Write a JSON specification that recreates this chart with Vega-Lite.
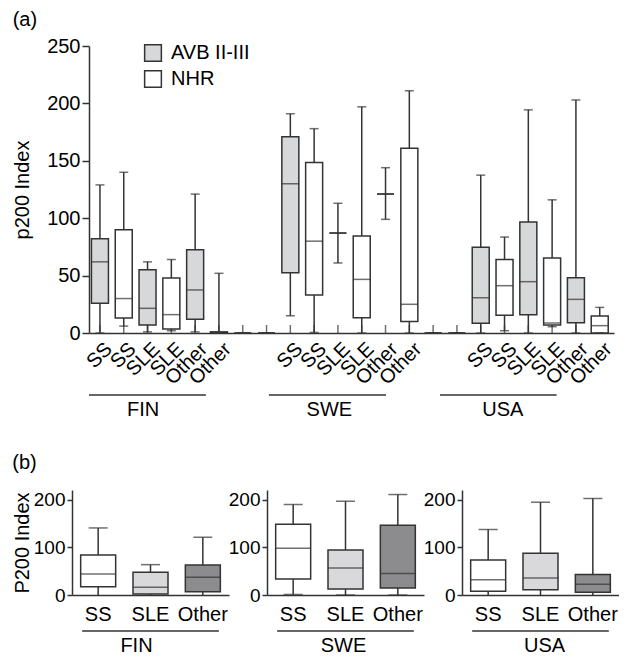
{
  "$schema": "https://vega.github.io/schema/vega-lite/v6.json",
  "background": "white",
  "padding": {"left": 12, "top": 10, "right": 0, "bottom": 0},
  "config": {
    "font": "Liberation Sans",
    "view": {"stroke": null},
    "axis": {"domainColor": "#333", "domainWidth": 1.5, "tickColor": "#333", "tickWidth": 1.5, "labelColor": "#000", "titleColor": "#000", "grid": false, "titleFontWeight": "normal"},
    "title": {"fontWeight": "normal", "color": "#000"}
  },
  "datasets": {
    "a": [
      {"pos": 0, "country": "FIN", "cat": "SS", "grp": "AVB II-III", "min": 0, "q1": 26, "med": 62, "q3": 82, "max": 129},
      {"pos": 1, "country": "FIN", "cat": "SS", "grp": "NHR", "min": 6, "q1": 13, "med": 30, "q3": 90, "max": 140},
      {"pos": 2, "country": "FIN", "cat": "SLE", "grp": "AVB II-III", "min": 1, "q1": 7, "med": 21.5, "q3": 55, "max": 62},
      {"pos": 3, "country": "FIN", "cat": "SLE", "grp": "NHR", "min": 2, "q1": 3.5, "med": 16, "q3": 48, "max": 64},
      {"pos": 4, "country": "FIN", "cat": "Other", "grp": "AVB II-III", "min": 1, "q1": 12, "med": 37.5, "q3": 72.5, "max": 121},
      {"pos": 5, "country": "FIN", "cat": "Other", "grp": "NHR", "min": 0, "q1": 0, "med": 0, "q3": 1, "max": 52},
      {"pos": 6, "country": "", "cat": "", "grp": "NHR", "min": 0, "q1": 0, "med": 0, "q3": 0, "max": 0},
      {"pos": 7, "country": "", "cat": "", "grp": "NHR", "min": 0, "q1": 0, "med": 0, "q3": 0, "max": 0},
      {"pos": 8, "country": "SWE", "cat": "SS", "grp": "AVB II-III", "min": 15, "q1": 52.5, "med": 130, "q3": 171, "max": 191},
      {"pos": 9, "country": "SWE", "cat": "SS", "grp": "NHR", "min": 0.5, "q1": 33, "med": 80, "q3": 148.5, "max": 178},
      {"pos": 10, "country": "SWE", "cat": "SLE", "grp": "AVB II-III", "min": 61, "q1": 87, "med": 87, "q3": 87, "max": 113},
      {"pos": 11, "country": "SWE", "cat": "SLE", "grp": "NHR", "min": 0, "q1": 13.3, "med": 46.7, "q3": 84.5, "max": 197},
      {"pos": 12, "country": "SWE", "cat": "Other", "grp": "AVB II-III", "min": 99, "q1": 121, "med": 121, "q3": 121, "max": 144},
      {"pos": 13, "country": "SWE", "cat": "Other", "grp": "NHR", "min": 0, "q1": 10, "med": 25, "q3": 161, "max": 211},
      {"pos": 14, "country": "", "cat": "", "grp": "NHR", "min": 0, "q1": 0, "med": 0, "q3": 0, "max": 0},
      {"pos": 15, "country": "", "cat": "", "grp": "NHR", "min": 0, "q1": 0, "med": 0, "q3": 0, "max": 0},
      {"pos": 16, "country": "USA", "cat": "SS", "grp": "AVB II-III", "min": 0, "q1": 8.4, "med": 30.7, "q3": 74.6, "max": 137.5},
      {"pos": 17, "country": "USA", "cat": "SS", "grp": "NHR", "min": 2, "q1": 15.4, "med": 41.2, "q3": 64, "max": 83.6},
      {"pos": 18, "country": "USA", "cat": "SLE", "grp": "AVB II-III", "min": 0, "q1": 16, "med": 44.7, "q3": 96.6, "max": 194.4},
      {"pos": 19, "country": "USA", "cat": "SLE", "grp": "NHR", "min": 5.5, "q1": 7, "med": 8.7, "q3": 65.3, "max": 116},
      {"pos": 20, "country": "USA", "cat": "Other", "grp": "AVB II-III", "min": 0, "q1": 9, "med": 29.3, "q3": 48.2, "max": 203},
      {"pos": 21, "country": "USA", "cat": "Other", "grp": "NHR", "min": 0, "q1": 0, "med": 6.4, "q3": 14.8, "max": 22.3}
    ],
    "groups_a": [
      {"country": "FIN", "from": -0.46, "to": 4.45, "at": 1.81},
      {"country": "SWE", "from": 7.1, "to": 12.02, "at": 9.64},
      {"country": "USA", "from": 14.29, "to": 19.19, "at": 16.93}
    ],
    "b": [
      {"country": "FIN", "cat": "SS", "min": 0, "q1": 17.5, "med": 44, "q3": 84, "max": 140.5},
      {"country": "FIN", "cat": "SLE", "min": 0, "q1": 2, "med": 16, "q3": 47.6, "max": 63.6},
      {"country": "FIN", "cat": "Other", "min": 0, "q1": 7, "med": 37, "q3": 63, "max": 121},
      {"country": "SWE", "cat": "SS", "min": 1, "q1": 33.6, "med": 98, "q3": 148, "max": 189.5},
      {"country": "SWE", "cat": "SLE", "min": 0, "q1": 12.6, "med": 56.6, "q3": 94.4, "max": 196.5},
      {"country": "SWE", "cat": "Other", "min": 0, "q1": 14.7, "med": 44.8, "q3": 146, "max": 210.5},
      {"country": "USA", "cat": "SS", "min": 0, "q1": 7.7, "med": 32.2, "q3": 73.4, "max": 137},
      {"country": "USA", "cat": "SLE", "min": 0, "q1": 11.2, "med": 35.7, "q3": 87.4, "max": 194.4},
      {"country": "USA", "cat": "Other", "min": 0, "q1": 5.6, "med": 22.4, "q3": 42.7, "max": 202}
    ],
    "groups_b": [
      {"country": "FIN", "first": "SS", "mid": "SLE", "last": "Other"},
      {"country": "SWE", "first": "SS", "mid": "SLE", "last": "Other"},
      {"country": "USA", "first": "SS", "mid": "SLE", "last": "Other"}
    ]
  },
  "resolve": {"scale": {"fill": "independent"}},
  "columns": 1,
  "align": "none",
  "spacing": {"row": 33, "column": 0},
  "concat": [
    {
      "title": {"text": "(a)", "anchor": "start", "fontSize": 20, "offset": 6},
      "spacing": 0,
      "bounds": "flush",
      "hconcat": [
        {
          "width": 17, "height": 10,
          "data": {"values": [{}]},
          "mark": {"type": "point", "opacity": 0},
          "encoding": {}
        },
        {
          "width": 525,
          "height": 287,
          "layer": [
            {
              "data": {"name": "a"},
              "mark": {"type": "rule", "color": "#333", "strokeWidth": 1.5},
              "encoding": {
                "x": {"field": "pos", "type": "quantitative", "scale": {"domain": [-0.46, 21.6], "nice": false, "zero": false, "padding": 0},
                  "axis": {"title": null, "ticks": false, "labels": false}},
                "y": {"field": "min", "type": "quantitative", "scale": {"domain": [0, 250], "nice": false, "padding": 0},
                  "axis": {"title": "p200 Index", "values": [0,50,100,150,200,250], "tickSize": 7, "labelFontSize": 20, "titleFontSize": 20, "labelPadding": 2, "titlePadding": 14}},
                "y2": {"field": "max"}
              }
            },
            {
              "data": {"name": "a"},
              "mark": {"type": "tick", "orient": "vertical", "size": 8, "thickness": 1.5, "color": "#333", "yOffset": -4},
              "encoding": {
                "x": {"field": "pos", "type": "quantitative"},
                "y": {"value": "height"}
              }
            },
            {
              "data": {"name": "a"},
              "mark": {"type": "bar", "size": 17, "stroke": "#333", "strokeWidth": 1.5},
              "encoding": {
                "x": {"field": "pos", "type": "quantitative"},
                "y": {"field": "q1", "type": "quantitative"},
                "y2": {"field": "q3"},
                "fill": {"field": "grp", "type": "nominal", "scale": {"domain": ["AVB II-III", "NHR"], "range": ["#d7d8da", "#ffffff"]},
                  "legend": {"title": null, "orient": "none", "legendX": 71, "legendY": -3, "symbolType": "square", "symbolSize": 280, "symbolStrokeColor": "#333", "symbolStrokeWidth": 1.5, "labelFontSize": 20, "labelColor": "#000", "labelOffset": 8, "rowPadding": 2}}
              }
            },
            {
              "data": {"name": "a"},
              "mark": {"type": "tick", "orient": "horizontal", "size": 17, "thickness": 1.5, "color": "#333"},
              "encoding": {
                "x": {"field": "pos", "type": "quantitative"},
                "y": {"field": "med", "type": "quantitative"}
              }
            },
            {
              "data": {"name": "a"},
              "mark": {"type": "tick", "orient": "horizontal", "size": 9, "thickness": 1.5, "color": "#333"},
              "encoding": {
                "x": {"field": "pos", "type": "quantitative"},
                "y": {"field": "min", "type": "quantitative"}
              }
            },
            {
              "data": {"name": "a"},
              "mark": {"type": "tick", "orient": "horizontal", "size": 9, "thickness": 1.5, "color": "#333"},
              "encoding": {
                "x": {"field": "pos", "type": "quantitative"},
                "y": {"field": "max", "type": "quantitative"}
              }
            },
            {
              "data": {"name": "a"},
              "mark": {"type": "text", "angle": 315, "align": "right", "baseline": "top", "fontSize": 20, "color": "#000", "yOffset": 6, "xOffset": 2},
              "encoding": {
                "x": {"field": "pos", "type": "quantitative"},
                "y": {"value": "height"},
                "text": {"field": "cat"}
              }
            },
            {
              "data": {"name": "groups_a"},
              "mark": {"type": "rule", "color": "#333", "strokeWidth": 1.5, "yOffset": 62},
              "encoding": {
                "x": {"field": "from", "type": "quantitative"},
                "x2": {"field": "to"},
                "y": {"value": "height"}
              }
            },
            {
              "data": {"name": "groups_a"},
              "mark": {"type": "text", "fontSize": 20, "color": "#000", "baseline": "alphabetic", "yOffset": 83},
              "encoding": {
                "x": {"field": "at", "type": "quantitative"},
                "y": {"value": "height"},
                "text": {"field": "country"}
              }
            }
          ]
        }
      ]
    },
    {
      "title": {"text": "(b)", "anchor": "start", "fontSize": 20, "offset": 17},
      "hconcat": [
        {
          "width": 157, "height": 105,
          "layer": [
            {
              "data": {"name": "b"},
              "transform": [{"filter": "datum.country === 'FIN'"}],
              "mark": {"type": "rule", "color": "#333", "strokeWidth": 1.5},
              "encoding": {
                "x": {"field": "cat", "type": "nominal", "scale": {"domain": ["SS", "SLE", "Other"], "paddingInner": 0, "paddingOuter": 0},
                  "axis": {"title": null, "labelAngle": 0, "ticks": false, "labelFontSize": 20, "labelPadding": 9}},
                "y": {"field": "min", "type": "quantitative", "scale": {"domain": [0, 220], "nice": false, "padding": 0},
                  "axis": {"title": "P200 Index", "values": [0,50,100,150,200], "tickSize": 5, "labelFontSize": 19, "titleFontSize": 20, "labelPadding": 2, "titlePadding": 1}},
                "y2": {"field": "max"}
              }
            },
            {
              "data": {"name": "b"},
              "transform": [{"filter": "datum.country === 'FIN'"}],
              "mark": {"type": "bar", "size": 35, "stroke": "#333", "strokeWidth": 1.5},
              "encoding": {
                "x": {"field": "cat", "type": "nominal"},
                "y": {"field": "q1", "type": "quantitative"},
                "y2": {"field": "q3"},
                "fill": {"field": "cat", "type": "nominal", "scale": {"domain": ["SS", "SLE", "Other"], "range": ["#ffffff", "#d9d9db", "#8c8c8e"]}, "legend": null}
              }
            },
            {
              "data": {"name": "b"},
              "transform": [{"filter": "datum.country === 'FIN'"}],
              "mark": {"type": "tick", "orient": "horizontal", "size": 35, "thickness": 1.5, "color": "#333"},
              "encoding": {"x": {"field": "cat", "type": "nominal"}, "y": {"field": "med", "type": "quantitative"}}
            },
            {
              "data": {"name": "b"},
              "transform": [{"filter": "datum.country === 'FIN'"}],
              "mark": {"type": "tick", "orient": "horizontal", "size": 19, "thickness": 1.5, "color": "#333"},
              "encoding": {"x": {"field": "cat", "type": "nominal"}, "y": {"field": "max", "type": "quantitative"}}
            },
            {
              "data": {"name": "groups_b"},
              "transform": [{"filter": "datum.country === 'FIN'"}],
              "mark": {"type": "rule", "color": "#333", "strokeWidth": 1.5, "yOffset": 36, "xOffset": -16, "x2Offset": 16},
              "encoding": {"x": {"field": "first", "type": "nominal"}, "x2": {"field": "last"}, "y": {"value": "height"}}
            },
            {
              "data": {"name": "groups_b"},
              "transform": [{"filter": "datum.country === 'FIN'"}],
              "mark": {"type": "text", "fontSize": 20, "color": "#000", "baseline": "alphabetic", "yOffset": 57, "dx": -14},
              "encoding": {"x": {"field": "mid", "type": "nominal"}, "y": {"value": "height"}, "text": {"field": "country"}}
            }
          ]
        },
        {
          "width": 157, "height": 105,
          "layer": [
            {
              "data": {"name": "b"},
              "transform": [{"filter": "datum.country === 'SWE'"}],
              "mark": {"type": "rule", "color": "#333", "strokeWidth": 1.5},
              "encoding": {
                "x": {"field": "cat", "type": "nominal", "scale": {"domain": ["SS", "SLE", "Other"], "paddingInner": 0, "paddingOuter": 0},
                  "axis": {"title": null, "labelAngle": 0, "ticks": false, "labelFontSize": 20, "labelPadding": 9}},
                "y": {"field": "min", "type": "quantitative", "scale": {"domain": [0, 220], "nice": false, "padding": 0},
                  "axis": {"title": null, "values": [0,50,100,150,200], "tickSize": 5, "labelFontSize": 19, "labelPadding": 2}},
                "y2": {"field": "max"}
              }
            },
            {
              "data": {"name": "b"},
              "transform": [{"filter": "datum.country === 'SWE'"}],
              "mark": {"type": "bar", "size": 35, "stroke": "#333", "strokeWidth": 1.5},
              "encoding": {
                "x": {"field": "cat", "type": "nominal"},
                "y": {"field": "q1", "type": "quantitative"},
                "y2": {"field": "q3"},
                "fill": {"field": "cat", "type": "nominal", "scale": {"domain": ["SS", "SLE", "Other"], "range": ["#ffffff", "#d9d9db", "#8c8c8e"]}, "legend": null}
              }
            },
            {
              "data": {"name": "b"},
              "transform": [{"filter": "datum.country === 'SWE'"}],
              "mark": {"type": "tick", "orient": "horizontal", "size": 35, "thickness": 1.5, "color": "#333"},
              "encoding": {"x": {"field": "cat", "type": "nominal"}, "y": {"field": "med", "type": "quantitative"}}
            },
            {
              "data": {"name": "b"},
              "transform": [{"filter": "datum.country === 'SWE'"}],
              "mark": {"type": "tick", "orient": "horizontal", "size": 19, "thickness": 1.5, "color": "#333"},
              "encoding": {"x": {"field": "cat", "type": "nominal"}, "y": {"field": "max", "type": "quantitative"}}
            },
            {
              "data": {"name": "b"},
              "transform": [{"filter": "datum.country === 'SWE'"}],
              "mark": {"type": "tick", "orient": "horizontal", "size": 19, "thickness": 1.5, "color": "#333"},
              "encoding": {"x": {"field": "cat", "type": "nominal"}, "y": {"field": "min", "type": "quantitative"}}
            },
            {
              "data": {"name": "groups_b"},
              "transform": [{"filter": "datum.country === 'SWE'"}],
              "mark": {"type": "rule", "color": "#333", "strokeWidth": 1.5, "yOffset": 36, "xOffset": -16, "x2Offset": 16},
              "encoding": {"x": {"field": "first", "type": "nominal"}, "x2": {"field": "last"}, "y": {"value": "height"}}
            },
            {
              "data": {"name": "groups_b"},
              "transform": [{"filter": "datum.country === 'SWE'"}],
              "mark": {"type": "text", "fontSize": 20, "color": "#000", "baseline": "alphabetic", "yOffset": 57, "dx": -2},
              "encoding": {"x": {"field": "mid", "type": "nominal"}, "y": {"value": "height"}, "text": {"field": "country"}}
            }
          ]
        },
        {
          "width": 157, "height": 105,
          "layer": [
            {
              "data": {"name": "b"},
              "transform": [{"filter": "datum.country === 'USA'"}],
              "mark": {"type": "rule", "color": "#333", "strokeWidth": 1.5},
              "encoding": {
                "x": {"field": "cat", "type": "nominal", "scale": {"domain": ["SS", "SLE", "Other"], "paddingInner": 0, "paddingOuter": 0},
                  "axis": {"title": null, "labelAngle": 0, "ticks": false, "labelFontSize": 20, "labelPadding": 9}},
                "y": {"field": "min", "type": "quantitative", "scale": {"domain": [0, 220], "nice": false, "padding": 0},
                  "axis": {"title": null, "values": [0,50,100,150,200], "tickSize": 5, "labelFontSize": 19, "labelPadding": 2}},
                "y2": {"field": "max"}
              }
            },
            {
              "data": {"name": "b"},
              "transform": [{"filter": "datum.country === 'USA'"}],
              "mark": {"type": "bar", "size": 35, "stroke": "#333", "strokeWidth": 1.5},
              "encoding": {
                "x": {"field": "cat", "type": "nominal"},
                "y": {"field": "q1", "type": "quantitative"},
                "y2": {"field": "q3"},
                "fill": {"field": "cat", "type": "nominal", "scale": {"domain": ["SS", "SLE", "Other"], "range": ["#ffffff", "#d9d9db", "#8c8c8e"]}, "legend": null}
              }
            },
            {
              "data": {"name": "b"},
              "transform": [{"filter": "datum.country === 'USA'"}],
              "mark": {"type": "tick", "orient": "horizontal", "size": 35, "thickness": 1.5, "color": "#333"},
              "encoding": {"x": {"field": "cat", "type": "nominal"}, "y": {"field": "med", "type": "quantitative"}}
            },
            {
              "data": {"name": "b"},
              "transform": [{"filter": "datum.country === 'USA'"}],
              "mark": {"type": "tick", "orient": "horizontal", "size": 19, "thickness": 1.5, "color": "#333"},
              "encoding": {"x": {"field": "cat", "type": "nominal"}, "y": {"field": "max", "type": "quantitative"}}
            },
            {
              "data": {"name": "groups_b"},
              "transform": [{"filter": "datum.country === 'USA'"}],
              "mark": {"type": "rule", "color": "#333", "strokeWidth": 1.5, "yOffset": 36, "xOffset": -16, "x2Offset": 16},
              "encoding": {"x": {"field": "first", "type": "nominal"}, "x2": {"field": "last"}, "y": {"value": "height"}}
            },
            {
              "data": {"name": "groups_b"},
              "transform": [{"filter": "datum.country === 'USA'"}],
              "mark": {"type": "text", "fontSize": 20, "color": "#000", "baseline": "alphabetic", "yOffset": 57, "dx": 4},
              "encoding": {"x": {"field": "mid", "type": "nominal"}, "y": {"value": "height"}, "text": {"field": "country"}}
            }
          ]
        }
      ],
      "spacing": 38,
      "bounds": "flush"
    }
  ]
}
